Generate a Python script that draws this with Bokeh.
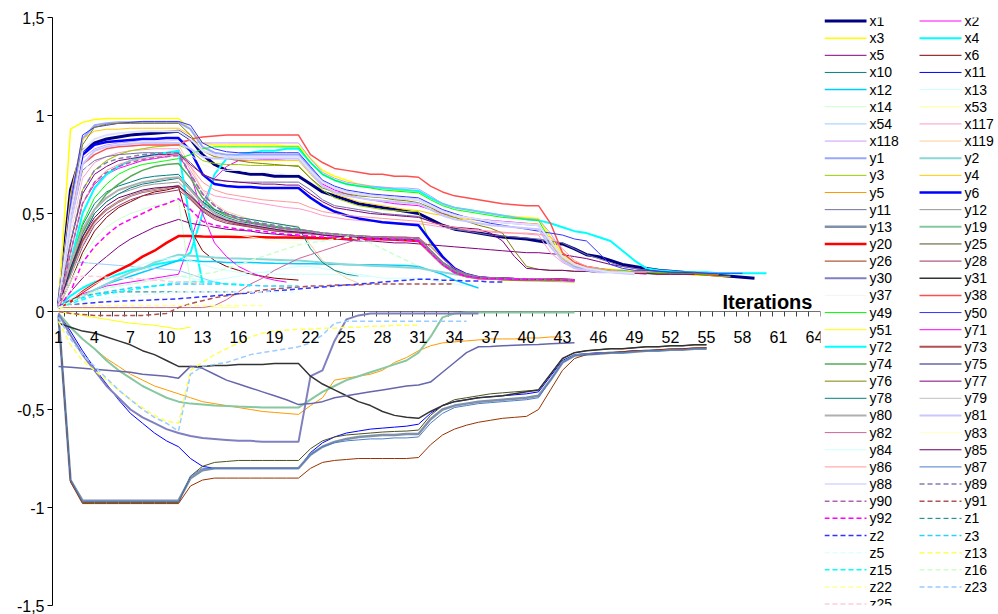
from bokeh.plotting import figure
from bokeh.models import Range1d, FixedTicker, Span, CustomJSTickFormatter, LabelSet, ColumnDataSource
from bokeh.layouts import row
from bokeh.embed import file_html
from bokeh.resources import INLINE
from bokeh.core.properties import value

# ---------------- categories / ticks ----------------
iterations = list(range(1, 65))
x_tick_labels = ["1", "4", "7", "10", "13", "16", "19", "22", "25", "28", "31",
                 "34", "37", "40", "43", "46", "49", "52", "55", "58", "61", "64"]
y_ticks = [-1.5, -1, -0.5, 0, 0.5, 1, 1.5]
y_tick_labels = ["-1,5", "-1", "-0,5", "0", "0,5", "1", "1,5"]
axis_title = "Iterations"

# ---------------- series values (one value per iteration) ----------------
x1 = [0.03,0.62,0.82,0.86,0.88,0.89,0.90,0.905,0.91,0.915,0.92,
      0.88,0.80,0.75,0.72,0.71,0.70,0.70,0.69,0.69,0.69,
      0.65,0.61,0.59,0.57,0.55,0.54,0.53,0.52,0.51,0.50,
      0.47,0.44,0.42,0.41,0.40,0.39,0.38,0.375,0.37,0.36,
      0.35,0.345,0.32,0.29,0.28,0.26,0.24,0.23,0.22,0.21,
      0.205,0.20,0.195,0.19,0.185,0.18,0.175,0.17]
x2 = [0.03,0.06,0.09,0.11,0.13,0.14,0.15,0.16,0.17,0.18,0.19,
      0.36,0.55,0.68,0.74,0.77,0.77,0.775,0.775,0.78,0.78,
      0.71,0.65,0.62,0.60,0.58,0.57,0.56,0.55,0.545,0.54,
      0.52,0.50,0.49,0.48,0.47,0.465,0.46,0.455,0.45,0.445,
      0.35,0.27,0.23,0.21,0.205,0.20,0.20,0.195,0.19]
x3 = [0.03,0.93,0.965,0.98,0.985,0.985,0.985,0.985,0.985,0.985,0.985,
      0.93,0.86,0.85,0.85,0.85,0.85,0.85,0.85,0.845,0.845,
      0.78,0.72,0.69,0.67,0.65,0.64,0.63,0.62,0.615,0.61,
      0.58,0.55,0.53,0.52,0.51,0.50,0.49,0.485,0.48,0.475,
      0.38,0.29,0.25,0.23,0.22,0.215,0.21,0.205,0.20,0.20,
      0.195,0.195,0.19,0.19,0.19]
x4 = [0.02,0.08,0.12,0.15,0.17,0.19,0.21,0.22,0.24,0.25,0.26,
      0.30,0.50,0.70,0.78,0.80,0.81,0.82,0.82,0.83,0.83,
      0.76,0.70,0.67,0.65,0.64,0.635,0.63,0.625,0.62,0.615,
      0.58,0.55,0.53,0.52,0.51,0.50,0.49,0.48,0.47,0.465,
      0.45,0.43,0.41,0.40,0.38,0.36,0.31,0.26,0.22,0.21,
      0.205,0.20,0.20,0.20,0.195,0.195,0.195,0.195,0.195]
x5 = [0.02,0.10,0.17,0.23,0.28,0.33,0.37,0.40,0.43,0.45,0.47,
      0.45,0.44,0.43,0.42,0.415,0.41,0.40,0.395,0.39,0.385,
      0.38,0.375,0.37,0.365,0.36,0.36,0.355,0.35,0.35,0.345,
      0.34,0.335,0.33,0.325,0.32,0.315,0.31,0.305,0.30,0.30,
      0.295,0.29,0.28,0.27,0.255,0.24,0.23,0.22,0.21,0.205,
      0.20,0.20,0.195,0.195,0.19]
x6 = [0.02,0.15,0.30,0.41,0.48,0.53,0.56,0.59,0.61,0.62,0.635,
      0.42,0.31,0.26,0.23,0.21,0.19,0.18,0.17,0.165,0.16]
x10 = [0.02,0.25,0.44,0.55,0.61,0.64,0.66,0.68,0.69,0.695,0.70,
       0.63,0.56,0.51,0.48,0.46,0.45,0.44,0.43,0.42,0.415,
       0.41,0.40,0.395,0.39,0.385,0.38,0.378,0.375,0.372,0.37,
       0.31,0.25,0.21,0.19,0.175,0.17,0.168,0.166,0.165,0.164,
       0.163,0.162,0.16]
x11 = [-0.01,-0.10,-0.20,-0.29,-0.37,-0.45,-0.52,-0.57,-0.62,-0.66,-0.69,
       -0.75,-0.79,-0.80,-0.80,-0.80,-0.80,-0.80,-0.80,-0.80,-0.80,
       -0.72,-0.67,-0.64,-0.62,-0.61,-0.60,-0.595,-0.59,-0.585,-0.575,
       -0.52,-0.48,-0.46,-0.45,-0.44,-0.435,-0.43,-0.425,-0.42,-0.41,
       -0.33,-0.25,-0.22,-0.215,-0.21,-0.21,-0.205,-0.20,-0.20,-0.195,
       -0.195,-0.19,-0.19,-0.185]
x12 = [0.02,0.05,0.08,0.11,0.14,0.16,0.18,0.20,0.22,0.24,0.26,
       0.26,0.255,0.255,0.25,0.25,0.25,0.248,0.246,0.245,0.244,
       0.243,0.242,0.241,0.24,0.239,0.238,0.237,0.236,0.235,0.23,
       0.21,0.19,0.16,0.14,0.12]
x13 = [0.02,0.05,0.08,0.10,0.12,0.13,0.14,0.15,0.16,0.17,0.18,
       0.17,0.16,0.16,0.17,0.18,0.19,0.20,0.21,0.22,0.23,
       0.23,0.22,0.21,0.20,0.19,0.18]
x14 = [0.02,0.15,0.28,0.37,0.43,0.47,0.50,0.52,0.54,0.55,0.57,0.14,0.16]
x53 = [0.01,0.01,0.012,0.014,0.015,0.016,0.017,0.018,0.019,0.02,0.02,
       0.02,0.02,0.02,0.02,0.02]
x54 = [0.03,0.25,0.25,0.245,0.24,0.235,0.23,0.225,0.22,0.215,0.21,
       0.19,0.17,0.15,0.14]
x117 = [0.03,0.40,0.68,0.76,0.79,0.81,0.82,0.825,0.83,0.83,0.83,
        0.72,0.62,0.59,0.58,0.57,0.56,0.55,0.54,0.53,0.525,
        0.51,0.49,0.48,0.47,0.465,0.46,0.458,0.455,0.45,0.448,
        0.44,0.43,0.42,0.415,0.41,0.405,0.40,0.40,0.395,0.39,
        0.30,0.25,0.22,0.21,0.20,0.20,0.195]
x118 = [0.03,0.50,0.78,0.83,0.85,0.86,0.865,0.87,0.87,0.87,0.875,
        0.87,0.86,0.86,0.86,0.86,0.86,0.86,0.86,0.86,0.86,
        0.78,0.71,0.68,0.66,0.65,0.64,0.635,0.63,0.63,0.625,
        0.59,0.55,0.53,0.52,0.51,0.50,0.49,0.48,0.475,0.47,
        0.40,0.30,0.25,0.23,0.22,0.21,0.21,0.20,0.20,0.20,
        0.195,0.19,0.19]
x119 = [0.03,0.35,0.62,0.72,0.77,0.80,0.82,0.83,0.84,0.845,0.85,
        0.74,0.62,0.55,0.51,0.49,0.47,0.46,0.45,0.44,0.435,
        0.34,0.26,0.21,0.17,0.145]
y1 = [0.03,0.55,0.88,0.95,0.96,0.965,0.965,0.965,0.965,0.965,0.965,
      0.93,0.84,0.81,0.80,0.80,0.80,0.80,0.80,0.80,0.80,
      0.73,0.66,0.63,0.61,0.60,0.59,0.585,0.58,0.575,0.57,
      0.54,0.51,0.49,0.48,0.47,0.46,0.455,0.45,0.445,0.44,
      0.35,0.27,0.23,0.22,0.21,0.205,0.20,0.20,0.195,0.19]
y2 = [0.02,0.05,0.08,0.11,0.14,0.17,0.20,0.22,0.25,0.27,0.29,
      0.285,0.28,0.275,0.272,0.27,0.268,0.266,0.264,0.262,0.26,
      0.255,0.25,0.245,0.24,0.237,0.234,0.231,0.228,0.225,0.222,
      0.21,0.20,0.19,0.18,0.175,0.17]
y3 = [0.02,0.35,0.62,0.72,0.77,0.80,0.82,0.83,0.84,0.845,0.85,
      0.82,0.77,0.755,0.75,0.75,0.745,0.745,0.745,0.745,0.745,
      0.68,0.62,0.58,0.56,0.54,0.53,0.52,0.515,0.51,0.51,
      0.34,0.27,0.22,0.19,0.17,0.165,0.16,0.158,0.156,0.155,
      0.153,0.152,0.15]
y4 = [0.03,0.60,0.88,0.92,0.93,0.93,0.935,0.935,0.935,0.935,0.935,
      0.90,0.82,0.79,0.78,0.775,0.77,0.77,0.77,0.77,0.77,
      0.70,0.64,0.60,0.58,0.56,0.55,0.54,0.53,0.52,0.515,
      0.50,0.49,0.48,0.47,0.465,0.46,0.455,0.45,0.45,0.445,
      0.35,0.27,0.235,0.22,0.21,0.205,0.20,0.20,0.195,0.19,
      0.19,0.19,0.185,0.185,0.18,0.18]
y5 = [-0.01,-0.08,-0.14,-0.19,-0.24,-0.28,-0.32,-0.35,-0.38,-0.40,-0.42,
      -0.44,-0.46,-0.47,-0.48,-0.49,-0.50,-0.51,-0.515,-0.52,-0.525,
      -0.48,-0.44,-0.35,-0.34,-0.33,-0.32,-0.30,-0.26,-0.235,-0.20,
      -0.175,-0.16,-0.155,-0.15,-0.145,-0.14,-0.14,-0.14,-0.135,-0.135,
      -0.13,-0.13]
y6 = [0.03,0.50,0.80,0.85,0.865,0.87,0.875,0.88,0.88,0.885,0.885,
      0.82,0.70,0.65,0.64,0.635,0.635,0.63,0.63,0.63,0.63,
      0.58,0.54,0.51,0.49,0.475,0.465,0.455,0.45,0.445,0.44,
      0.36,0.28,0.22,0.19,0.175,0.17,0.168,0.166,0.165,0.164,
      0.163,0.162,0.16]
y11 = [0.03,0.45,0.72,0.77,0.79,0.80,0.805,0.81,0.81,0.81,0.81,
       0.76,0.70,0.67,0.665,0.66,0.66,0.66,0.66,0.66,0.66,
       0.62,0.57,0.54,0.53,0.52,0.51,0.50,0.495,0.49,0.485,
       0.46,0.44,0.42,0.41,0.40,0.39,0.385,0.38,0.375,0.37,
       0.36,0.35,0.32,0.29,0.27,0.25,0.23,0.22,0.21,0.205,
       0.20,0.195,0.19,0.19]
y12 = [0.02,0.20,0.38,0.50,0.56,0.60,0.62,0.64,0.65,0.655,0.66,
       0.60,0.53,0.49,0.465,0.45,0.44,0.43,0.42,0.41,0.405,
       0.40,0.395,0.39,0.385,0.38,0.378,0.375,0.372,0.37,0.368,
       0.30,0.24,0.20,0.18,0.17,0.168,0.166,0.165,0.164,0.163,
       0.162,0.16,0.16]
y13 = [-0.02,-0.86,-0.965,-0.965,-0.965,-0.965,-0.965,-0.965,-0.965,-0.965,-0.965,
       -0.85,-0.81,-0.80,-0.80,-0.80,-0.80,-0.80,-0.80,-0.80,-0.80,
       -0.73,-0.69,-0.665,-0.65,-0.64,-0.635,-0.63,-0.63,-0.625,-0.625,
       -0.55,-0.50,-0.48,-0.47,-0.46,-0.455,-0.45,-0.445,-0.44,-0.43,
       -0.35,-0.26,-0.225,-0.22,-0.215,-0.21,-0.21,-0.205,-0.20,-0.20,
       -0.195,-0.195,-0.19,-0.19]
y19 = [-0.01,-0.08,-0.14,-0.19,-0.25,-0.30,-0.34,-0.38,-0.41,-0.44,-0.46,
       -0.47,-0.475,-0.48,-0.482,-0.485,-0.487,-0.49,-0.49,-0.49,-0.49,
       -0.45,-0.41,-0.38,-0.35,-0.33,-0.31,-0.29,-0.27,-0.25,-0.21,
       -0.13,-0.03,-0.01,-0.005,-0.005,-0.005,-0.005,-0.005,-0.005,-0.005,
       -0.005,-0.005,-0.005]
y20 = [0.02,0.05,0.10,0.14,0.18,0.21,0.24,0.28,0.31,0.35,0.385,
       0.385,0.383,0.382,0.381,0.38,0.38,0.379,0.378,0.377,0.376,
       0.375,0.374,0.373,0.372,0.371,0.37,0.368,0.366,0.364,0.36,
       0.30,0.24,0.20,0.18,0.17,0.168,0.166,0.165,0.165,0.164,
       0.163,0.162,0.16]
y25 = [-0.02,-0.86,-0.975,-0.975,-0.975,-0.975,-0.975,-0.975,-0.975,-0.975,-0.975,
       -0.84,-0.79,-0.77,-0.765,-0.76,-0.76,-0.76,-0.76,-0.76,-0.76,
       -0.70,-0.66,-0.64,-0.63,-0.625,-0.62,-0.615,-0.612,-0.61,-0.605,
       -0.53,-0.48,-0.45,-0.44,-0.43,-0.42,-0.415,-0.41,-0.405,-0.40,
       -0.32,-0.24,-0.21,-0.20,-0.195,-0.19,-0.19,-0.185,-0.18,-0.18,
       -0.175,-0.175,-0.17,-0.17]
y26 = [-0.02,-0.87,-0.98,-0.98,-0.98,-0.98,-0.98,-0.98,-0.98,-0.98,-0.98,
       -0.89,-0.86,-0.85,-0.85,-0.85,-0.85,-0.85,-0.85,-0.85,-0.85,
       -0.80,-0.77,-0.76,-0.755,-0.75,-0.75,-0.75,-0.75,-0.75,-0.745,
       -0.68,-0.63,-0.60,-0.58,-0.565,-0.555,-0.545,-0.54,-0.535,-0.50,
       -0.40,-0.30,-0.24,-0.22,-0.215,-0.21,-0.205,-0.20,-0.20,-0.195,
       -0.19,-0.19,-0.185,-0.185]
y28 = [0.02,0.18,0.33,0.44,0.50,0.54,0.57,0.59,0.60,0.61,0.62,
       0.57,0.51,0.47,0.45,0.44,0.43,0.42,0.41,0.405,0.40,
       0.395,0.39,0.385,0.38,0.378,0.375,0.372,0.37,0.368,0.365,
       0.30,0.24,0.20,0.18,0.17,0.168,0.166,0.165,0.164,0.163,
       0.162,0.16,0.16]
y30 = [-0.01,-0.12,-0.22,-0.30,-0.38,-0.44,-0.50,-0.54,-0.57,-0.60,-0.62,
       -0.635,-0.645,-0.65,-0.655,-0.66,-0.66,-0.665,-0.665,-0.665,-0.665,
       -0.33,-0.30,-0.15,-0.04,-0.02,-0.01,-0.01,-0.01,-0.01,-0.01,
       -0.01,-0.01,-0.01,-0.01,-0.01]
y31 = [-0.06,-0.08,-0.10,-0.11,-0.13,-0.15,-0.17,-0.20,-0.22,-0.25,-0.28,
       -0.28,-0.28,-0.275,-0.275,-0.27,-0.27,-0.27,-0.265,-0.265,-0.265,
       -0.33,-0.37,-0.40,-0.43,-0.46,-0.48,-0.51,-0.53,-0.54,-0.545,
       -0.51,-0.48,-0.46,-0.45,-0.44,-0.435,-0.43,-0.42,-0.41,-0.40,
       -0.32,-0.24,-0.21,-0.20,-0.195,-0.19,-0.19,-0.185,-0.18,-0.18,
       -0.175,-0.175,-0.17,-0.17]
y37 = [0.03,0.40,0.70,0.80,0.83,0.85,0.86,0.87,0.87,0.87,0.87,
       0.80,0.75,0.73,0.72,0.72,0.71,0.71,0.71,0.70,0.70]
y38 = [0.03,0.50,0.75,0.80,0.83,0.84,0.845,0.85,0.85,0.85,0.85,
       0.88,0.89,0.895,0.90,0.90,0.90,0.90,0.90,0.90,0.90,
       0.80,0.76,0.73,0.72,0.71,0.70,0.70,0.69,0.69,0.685,
       0.64,0.61,0.59,0.58,0.57,0.56,0.55,0.545,0.54,0.54,
       0.45,0.30,0.25,0.23,0.22,0.21,0.205,0.20,0.20,0.195,
       0.195,0.19,0.19,0.19,0.19]
y49 = [0.02,0.25,0.45,0.58,0.65,0.70,0.73,0.75,0.76,0.77,0.78,
       0.80,0.83,0.84,0.84,0.84,0.84,0.84,0.84,0.84,0.84,
       0.76,0.70,0.67,0.65,0.64,0.63,0.62,0.615,0.61,0.605,
       0.57,0.54,0.52,0.51,0.50,0.49,0.48,0.475,0.47,0.465,
       0.36,0.28,0.24,0.22,0.215,0.21,0.21,0.20,0.20,0.20,
       0.195,0.195,0.19,0.19]
y50 = [0.03,0.55,0.90,0.94,0.95,0.96,0.965,0.97,0.97,0.97,0.97,
       0.95,0.86,0.83,0.815,0.81,0.81,0.81,0.81,0.81,0.81,
       0.74,0.67,0.64,0.62,0.61,0.60,0.595,0.59,0.585,0.58,
       0.55,0.52,0.50,0.48,0.465,0.45,0.44,0.43,0.42,0.41,
       0.40,0.39,0.37,0.36,0.30,0.24,0.22,0.21,0.21,0.205,
       0.20,0.20,0.20,0.195,0.195,0.195,0.195]
y51 = [0.0,-0.01,-0.02,-0.03,-0.04,-0.05,-0.06,-0.065,-0.07,-0.08,-0.09,-0.08]
y71 = [0.02,0.30,0.55,0.65,0.70,0.73,0.75,0.77,0.78,0.79,0.80,
       0.70,0.50,0.35,0.28,0.23,0.20,0.175,0.16,0.15]
y72 = [0.02,0.25,0.50,0.63,0.70,0.74,0.77,0.79,0.80,0.81,0.82,0.45,0.15]
y73 = [0.02,0.20,0.36,0.46,0.52,0.56,0.59,0.61,0.62,0.63,0.64,
       0.58,0.52,0.48,0.46,0.445,0.435,0.425,0.415,0.41,0.405,
       0.40,0.395,0.39,0.387,0.385,0.382,0.38,0.378,0.376,0.375,
       0.31,0.25,0.21,0.185,0.175,0.17,0.168,0.166,0.165,0.164,
       0.163,0.162,0.16]
y74 = [0.02,0.22,0.40,0.52,0.60,0.65,0.69,0.72,0.74,0.75,0.755,
       0.68,0.58,0.52,0.49,0.47,0.455,0.445,0.435,0.425,0.42,
       0.41,0.40,0.395,0.39,0.385,0.38,0.378,0.375,0.372,0.37,
       0.31,0.25,0.21,0.19,0.175,0.17,0.168,0.166,0.165,0.164,
       0.163,0.162,0.16]
y75 = [-0.28,-0.285,-0.29,-0.295,-0.30,-0.305,-0.31,-0.32,-0.325,-0.33,-0.34,
       -0.28,-0.29,-0.32,-0.35,-0.37,-0.39,-0.41,-0.43,-0.45,-0.475,
       -0.47,-0.46,-0.44,-0.43,-0.42,-0.41,-0.40,-0.39,-0.38,-0.375,
       -0.36,-0.31,-0.26,-0.21,-0.18,-0.178,-0.175,-0.172,-0.17,-0.168,
       -0.165,-0.162,-0.16]
y76 = [0.03,0.50,0.85,0.94,0.955,0.96,0.96,0.96,0.96,0.96,0.96,
       0.90,0.82,0.79,0.78,0.77,0.76,0.755,0.75,0.745,0.74,
       0.68,0.63,0.61,0.60,0.59,0.585,0.58,0.57,0.565,0.555,
       0.53,0.50,0.48,0.46,0.44,0.425,0.40,0.31,0.23,0.215,
       0.21,0.21,0.205,0.205,0.20,0.20,0.20,0.195,0.195,0.19,
       0.19,0.19,0.19,0.185,0.185]
y77 = [0.02,0.35,0.60,0.70,0.74,0.77,0.78,0.79,0.80,0.80,0.805,
       0.75,0.70,0.675,0.665,0.66,0.655,0.65,0.65,0.645,0.645,
       0.60,0.56,0.53,0.52,0.51,0.50,0.495,0.49,0.485,0.48,
       0.46,0.44,0.43,0.425,0.42,0.40,0.36,0.28,0.22,0.215,
       0.21,0.21,0.205,0.205,0.20,0.20,0.20,0.195,0.195,0.19,
       0.19,0.19,0.19]
y78 = [0.02,0.20,0.38,0.50,0.56,0.60,0.63,0.65,0.66,0.67,0.68,
       0.62,0.56,0.52,0.50,0.48,0.47,0.46,0.45,0.44,0.43,
       0.32,0.25,0.21,0.19,0.18]
y79 = [0.02,0.18,0.34,0.45,0.52,0.56,0.59,0.61,0.62,0.63,0.64,
       0.58,0.52,0.48,0.46,0.45,0.44,0.43,0.42,0.415,0.41,
       0.40,0.395,0.39,0.385,0.38,0.378,0.375,0.372,0.37,0.368,
       0.30,0.24,0.20,0.18,0.17,0.168,0.166,0.165,0.164,0.163,
       0.162,0.16,0.16]
y80 = [0.02,0.25,0.42,0.52,0.58,0.62,0.64,0.66,0.67,0.68,0.685,
       0.62,0.55,0.50,0.47,0.455,0.44,0.43,0.42,0.415,0.41,
       0.40,0.395,0.39,0.385,0.38,0.378,0.375,0.372,0.37,0.368,
       0.30,0.24,0.20,0.18,0.17,0.168,0.166,0.165,0.164,0.163,
       0.162,0.16,0.16]
y81 = [0.03,0.45,0.75,0.82,0.84,0.85,0.855,0.86,0.86,0.86,0.86,
       0.83,0.79,0.78,0.78,0.78,0.78,0.78,0.78,0.78,0.78,
       0.71,0.64,0.61,0.59,0.58,0.57,0.565,0.56,0.555,0.55,
       0.52,0.49,0.47,0.46,0.45,0.44,0.435,0.43,0.425,0.42,
       0.33,0.26,0.22,0.21,0.20,0.20,0.195,0.19]
y82 = [0.02,0.02,0.02,0.02,0.02,0.02,0.02,0.02,0.02,0.02,0.02,
       0.02,0.02,0.03,0.06,0.10,0.14,0.17,0.21,0.24,0.27,
       0.29,0.31,0.33,0.35,0.37,0.38,0.38,0.38,0.38,0.375,
       0.33,0.27,0.22,0.19,0.175,0.17,0.168,0.166,0.165,0.164,
       0.163,0.162,0.16]
y83 = [0.02,0.10,0.20,0.30,0.37,0.43,0.47,0.50,0.52,0.54,0.55,
       0.50,0.45,0.42,0.40,0.39,0.38,0.37,0.36,0.35,0.35]
y84 = [0.02,0.06,0.10,0.14,0.17,0.20,0.22,0.24,0.26,0.27,0.28,
       0.26,0.24,0.22,0.21,0.20,0.20,0.20,0.19,0.19,0.19,
       0.19,0.19,0.19,0.18,0.18,0.18,0.17,0.17,0.17,0.17,
       0.16,0.15,0.14,0.13]
y85 = [0.02,0.22,0.38,0.48,0.54,0.58,0.60,0.62,0.63,0.635,0.64,
       0.59,0.53,0.49,0.465,0.45,0.44,0.43,0.42,0.41,0.405,
       0.40,0.39,0.385,0.38,0.378,0.375,0.372,0.37,0.368,0.365,
       0.30,0.24,0.20,0.18,0.172,0.168,0.166,0.165,0.164,0.163,
       0.162,0.16,0.16]
y86 = [0.03,0.30,0.55,0.66,0.72,0.75,0.77,0.78,0.79,0.795,0.80,
       0.74,0.66,0.62,0.60,0.59,0.58,0.57,0.565,0.56,0.555,
       0.53,0.51,0.50,0.49,0.485,0.48,0.475,0.47,0.465,0.46,
       0.45,0.44,0.43,0.42,0.415,0.41,0.405,0.40,0.40,0.395,
       0.38,0.32,0.26,0.23,0.22,0.21,0.205,0.20,0.20]
y87 = [-0.02,-0.86,-0.97,-0.97,-0.97,-0.97,-0.97,-0.97,-0.97,-0.97,-0.97,
       -0.84,-0.80,-0.80,-0.80,-0.80,-0.80,-0.80,-0.80,-0.80,-0.80,
       -0.73,-0.69,-0.67,-0.66,-0.655,-0.65,-0.65,-0.645,-0.645,-0.64,
       -0.57,-0.52,-0.49,-0.48,-0.47,-0.465,-0.46,-0.455,-0.45,-0.44,
       -0.35,-0.26,-0.225,-0.22,-0.215,-0.21,-0.21,-0.205,-0.20,-0.20,
       -0.195,-0.195,-0.19,-0.19]
y88 = [0.03,0.50,0.82,0.88,0.90,0.91,0.915,0.92,0.92,0.92,0.92,
       0.88,0.82,0.80,0.79,0.79,0.79,0.79,0.79,0.79,0.79,
       0.72,0.66,0.63,0.61,0.60,0.59,0.585,0.58,0.575,0.57,
       0.54,0.51,0.49,0.48,0.47,0.46,0.455,0.45,0.445,0.44,
       0.36,0.28,0.24,0.22,0.21,0.20,0.20,0.195]
y89 = [0.03,0.35,0.62,0.72,0.76,0.78,0.79,0.80,0.805,0.81,0.81,
       0.70,0.60,0.54,0.50,0.48,0.46,0.45,0.44,0.43,0.42,
       0.41,0.40,0.395,0.39,0.385,0.38,0.378,0.375,0.372,0.37,
       0.31,0.25,0.21,0.19,0.175,0.17,0.168,0.166,0.165,0.164,
       0.163,0.162,0.16]
y90 = [0.02,0.30,0.55,0.66,0.71,0.74,0.76,0.775,0.785,0.79,0.795,
       0.70,0.60,0.54,0.50,0.47,0.455,0.44,0.43,0.42,0.415,
       0.41,0.40,0.395,0.39,0.385,0.38,0.378,0.375,0.372,0.37,
       0.30,0.24,0.20,0.18,0.17,0.168,0.166,0.165,0.164,0.163,
       0.162,0.16,0.16]
y91 = [0.0,-0.01,-0.015,-0.02,-0.02,-0.02,-0.02,-0.02,-0.015,-0.01,0.02,
       0.04,0.055,0.07,0.08,0.09,0.10,0.11,0.115,0.12,0.125,
       0.13,0.13,0.135,0.135,0.135,0.14,0.14,0.14,0.14,0.14,
       0.14,0.14,0.14]
y92 = [0.02,0.10,0.25,0.33,0.39,0.44,0.47,0.50,0.53,0.55,0.575,
       0.52,0.46,0.44,0.43,0.42,0.415,0.41,0.40,0.395,0.39,
       0.385,0.38,0.378,0.375,0.372,0.37,0.368,0.366,0.364,0.36,
       0.30,0.24,0.20,0.18,0.17,0.168,0.166,0.165,0.164,0.163,
       0.162,0.16,0.16]
z1 = [0.02,0.06,0.08,0.09,0.095,0.10,0.10,0.10,0.10,0.10,0.10,
      0.10,0.10,0.10,0.10,0.10]
z2 = [0.03,0.035,0.04,0.045,0.05,0.052,0.055,0.057,0.06,0.062,0.065,
      0.07,0.075,0.08,0.085,0.09,0.095,0.10,0.105,0.11,0.115,
      0.12,0.125,0.13,0.135,0.14,0.145,0.15,0.155,0.16,0.165,
      0.165,0.16,0.16,0.155,0.155,0.15,0.15]
z3 = [0.02,0.05,0.07,0.09,0.10,0.11,0.12,0.125,0.13,0.135,0.14,
      0.14,0.14,0.14,0.14,0.135,0.135,0.13,0.13,0.13,0.13]
z5 = [0.02,0.04,0.05,0.06,0.07,0.075,0.08,0.085,0.09,0.095,0.10,
      0.10,0.10,0.10,0.10,0.10,0.10,0.10,0.10,0.10,0.10]
z13 = [-0.05,-0.17,-0.25,-0.30,-0.35,-0.40,-0.45,-0.49,-0.53,-0.56,-0.57,
       -0.30,-0.26,-0.22,-0.19,-0.16,-0.13,-0.11,-0.10,-0.095,-0.09,
       -0.09,-0.085,-0.085,-0.08,-0.08,-0.075,-0.075,-0.07,-0.07,-0.07]
z15 = [0.02,0.04,0.06,0.08,0.09,0.10,0.11,0.12,0.13,0.14,0.15,
       0.15,0.15,0.15,0.14,0.14,0.13]
z16 = [0.02,0.05,0.08,0.10,0.12,0.13,0.14,0.15,0.16,0.17,0.18,
       0.18,0.19,0.20,0.22,0.24,0.26,0.28,0.30,0.32,0.34,
       0.35,0.36,0.37,0.38,0.37,0.35,0.32,0.29,0.26,0.23]
z22 = [0.02,0.03,0.03,0.03,0.03,0.03,0.03,0.03,0.03,0.03,0.03,
       0.03,0.03,0.03,0.03,0.03,0.03,0.03]
z23 = [-0.03,-0.14,-0.22,-0.28,-0.34,-0.40,-0.45,-0.50,-0.54,-0.57,-0.61,
       -0.32,-0.28,-0.27,-0.26,-0.24,-0.22,-0.21,-0.20,-0.19,-0.18,
       -0.16,-0.12,-0.06,-0.05,-0.05,-0.05,-0.05,-0.05,-0.05,-0.05,
       -0.05,-0.05,-0.05,-0.05]
z25 = [0.03,0.17,0.18,0.18,0.175,0.17,0.17,0.165,0.16,0.155,0.15,0.15,0.14]

series = [
    ("x1", x1, "#000080", 3, "solid"), ("x2", x2, "#FF00FF", 1, "solid"),
    ("x3", x3, "#FFFF00", 1.5, "solid"), ("x4", x4, "#00FFFF", 2, "solid"),
    ("x5", x5, "#800080", 1, "solid"), ("x6", x6, "#800000", 1, "solid"),
    ("x10", x10, "#008080", 1, "solid"), ("x11", x11, "#0000FF", 1, "solid"),
    ("x12", x12, "#00CCFF", 1.5, "solid"), ("x13", x13, "#CCFFFF", 1, "solid"),
    ("x14", x14, "#CCFFCC", 1, "solid"), ("x53", x53, "#FFFF99", 1, "solid"),
    ("x54", x54, "#99CCFF", 1, "solid"), ("x117", x117, "#FF99CC", 1, "solid"),
    ("x118", x118, "#CC99FF", 1, "solid"), ("x119", x119, "#FFCC99", 1, "solid"),
    ("y1", y1, "#99A8FF", 2, "solid"), ("y2", y2, "#88D8D8", 2, "solid"),
    ("y3", y3, "#99CC00", 1, "solid"), ("y4", y4, "#FFCC00", 1, "solid"),
    ("y5", y5, "#FF9900", 1, "solid"), ("y6", y6, "#0000FF", 2.5, "solid"),
    ("y11", y11, "#7070A0", 1, "solid"), ("y12", y12, "#969696", 1, "solid"),
    ("y13", y13, "#8090A8", 2.5, "solid"), ("y19", y19, "#88C8A0", 2, "solid"),
    ("y20", y20, "#FF0000", 2.5, "solid"), ("y25", y25, "#4B5320", 1, "solid"),
    ("y26", y26, "#993300", 1, "solid"), ("y28", y28, "#993366", 1, "solid"),
    ("y30", y30, "#8080C0", 2, "solid"), ("y31", y31, "#333333", 1.5, "solid"),
    ("y37", y37, "#F4F4F4", 1, "solid"), ("y38", y38, "#FF5050", 1.5, "solid"),
    ("y49", y49, "#00FF00", 1, "solid"), ("y50", y50, "#3333FF", 1, "solid"),
    ("y51", y51, "#FFFF00", 1, "solid"), ("y71", y71, "#FF00FF", 1, "solid"),
    ("y72", y72, "#00FFFF", 2, "solid"), ("y73", y73, "#B05050", 2, "solid"),
    ("y74", y74, "#55AA55", 1.5, "solid"), ("y75", y75, "#6666AA", 1.5, "solid"),
    ("y76", y76, "#808000", 1, "solid"), ("y77", y77, "#800080", 1, "solid"),
    ("y78", y78, "#008080", 1, "solid"), ("y79", y79, "#C0C0C0", 1, "solid"),
    ("y80", y80, "#B0B0B0", 2, "solid"), ("y81", y81, "#C8C8FF", 2, "solid"),
    ("y82", y82, "#CC6699", 1, "solid"), ("y83", y83, "#FFFFCC", 1, "solid"),
    ("y84", y84, "#CCFFFF", 1, "solid"), ("y85", y85, "#660066", 1, "solid"),
    ("y86", y86, "#FF9999", 1, "solid"), ("y87", y87, "#4A7EC8", 1, "solid"),
    ("y88", y88, "#E0E0FF", 2, "solid"), ("y89", y89, "#8080B0", 1.5, "5 3"),
    ("y90", y90, "#B060B0", 1.5, "5 3"), ("y91", y91, "#B05050", 1.5, "5 3"),
    ("y92", y92, "#FF00FF", 1.5, "5 3"), ("z1", z1, "#008080", 1, "5 3"),
    ("z2", z2, "#3333FF", 1.5, "5 3"), ("z3", z3, "#33CCFF", 1.5, "5 3"),
    ("z5", z5, "#E0FFFF", 1.5, "5 3"), ("z13", z13, "#FFFF55", 1.5, "5 3"),
    ("z15", z15, "#00FFFF", 1.5, "5 3"), ("z16", z16, "#CCFFCC", 1.5, "5 3"),
    ("z22", z22, "#FFFF99", 1.5, "5 3"), ("z23", z23, "#99CCFF", 1.5, "5 3"),
    ("z25", z25, "#FFCCDD", 1.5, "5 3"),
]

FONT = "Liberation Sans"
TOP, BOTTOM, HEIGHT = 17, 9, 614

# ---------------- main chart ----------------
p = figure(width=824, height=HEIGHT, x_range=Range1d(0.5, 64.5), y_range=Range1d(-1.5, 1.5),
           output_backend="svg", toolbar_location=None, x_axis_location=None,
           min_border_left=52, min_border_right=4, min_border_top=TOP, min_border_bottom=BOTTOM)
p.outline_line_color = None
p.grid.visible = False
p.background_fill_color = "white"
p.border_fill_color = "white"

p.yaxis.ticker = FixedTicker(ticks=y_ticks)
p.yaxis.formatter = CustomJSTickFormatter(args=dict(yt=y_ticks, yl=y_tick_labels), code="""
    for (let i = 0; i < yt.length; i++) { if (Math.abs(yt[i] - tick) < 1e-9) return yl[i]; }
    return '';
""")
p.yaxis.axis_line_color = "black"
p.yaxis.major_tick_line_color = "black"
p.yaxis.major_tick_out = 5
p.yaxis.major_tick_in = 0
p.yaxis.minor_tick_out = 0
p.yaxis.minor_tick_in = 0
p.yaxis.major_label_text_font = FONT
p.yaxis.major_label_text_font_size = "16px"
p.yaxis.major_label_text_color = "black"
p.yaxis.major_label_standoff = 3

# horizontal category axis crossing at 0
p.add_layout(Span(location=0, dimension="width", line_color="#707070", line_width=1, level="underlay"))
bounds = [c - 0.5 for c in iterations] + [iterations[-1] + 0.5]
tick_len = 5 * 3.0 / 588
p.segment(x0=bounds, y0=[0] * len(bounds), x1=bounds, y1=[-tick_len] * len(bounds),
          line_color="#404040", line_width=1)
label_src = ColumnDataSource(dict(x=[int(t) for t in x_tick_labels],
                                  y=[-0.128] * len(x_tick_labels), text=x_tick_labels))
p.add_layout(LabelSet(x="x", y="y", text="text", source=label_src, text_align="center",
                      text_baseline="middle", text_font=value(FONT), text_font_size="16px",
                      text_color="black"))
p.text(x=[63.83], y=[0.046], text=[axis_title], text_align="right", text_baseline="alphabetic",
       text_font=value(FONT), text_font_size="20px", text_font_style="bold", text_color="black")

for name, vals, color, width, dash in series:
    p.line(iterations[:len(vals)], vals, line_color=color, line_width=width, line_dash=dash)

# ---------------- legend panel (y in page pixels) ----------------
L = figure(width=174, height=HEIGHT, x_range=Range1d(0, 174), y_range=Range1d(HEIGHT - BOTTOM, TOP),
           output_backend="svg", toolbar_location=None, x_axis_location=None, y_axis_location=None,
           min_border_left=0, min_border_right=0, min_border_top=TOP, min_border_bottom=BOTTOM)
L.outline_line_color = None
L.grid.visible = False
row_h = 17.15
leg_x, leg_y, leg_t = [], [], []
for k, (name, vals, color, width, dash) in enumerate(series):
    r, c = divmod(k, 2)
    gx0 = 0 + 95 * c
    gy = 20.5 + row_h * r
    L.line([gx0, gx0 + 42], [gy, gy], line_color=color, line_width=width, line_dash=dash)
    leg_x.append(gx0 + 45)
    leg_y.append(gy)
    leg_t.append(name)
L.add_layout(LabelSet(x="x", y="y", text="text", source=ColumnDataSource(dict(x=leg_x, y=leg_y, text=leg_t)),
                      text_align="left", text_baseline="middle", text_font=value(FONT),
                      text_font_size="14px", text_color="black"))

layout = row(p, L)
open("out.html", "w").write(file_html(layout, INLINE))
